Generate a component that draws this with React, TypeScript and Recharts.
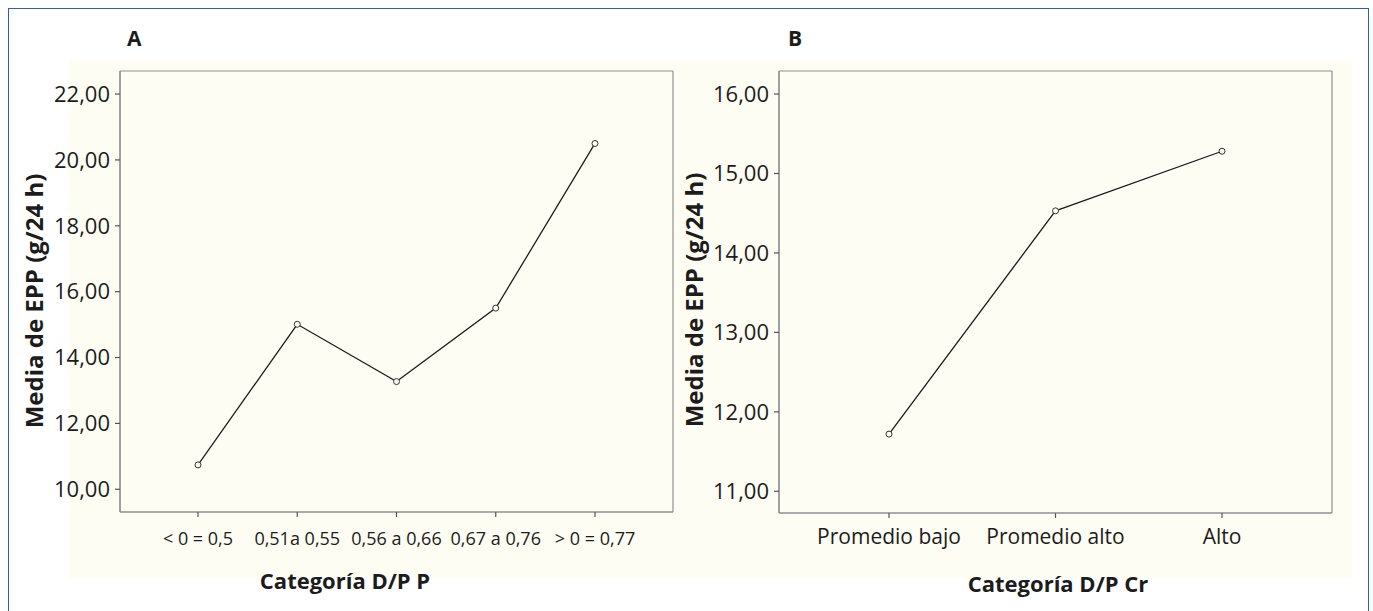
import React from "react";
import { LineChart, Line, XAxis, YAxis, CartesianGrid } from "recharts";

// ---- Data ----
const categoriesA = ["< 0 = 0,5", "0,51a 0,55", "0,56 a 0,66", "0,67 a 0,76", "> 0 = 0,77"];
const valuesA = [10.74, 15.01, 13.27, 15.5, 20.5];
const ticksA = [10, 12, 14, 16, 18, 20, 22];
const domainA: [number, number] = [9.31, 22.7];

const categoriesB = ["Promedio bajo", "Promedio alto", "Alto"];
const valuesB = [11.72, 14.53, 15.28];
const ticksB = [11, 12, 13, 14, 15, 16];
const domainB: [number, number] = [10.727, 16.29];

const panelLabels = ["A", "B"];
const yTitle = "Media de EPP (g/24 h)";
const xTitleA = "Categoría D/P P";
const xTitleB = "Categoría D/P Cr";

const dataA = categoriesA.map((c, i) => ({ cat: c, epp: valuesA[i] }));
const dataB = categoriesB.map((c, i) => ({ cat: c, epp: valuesB[i] }));

// ---- Styles ----
const FONT = '"Open Sans", "DejaVu Sans", sans-serif';
const CREAM = "#FDFDF3";
const AXIS = "#8f8f8f";
const INK = "#1c1c1c";

const fmt = (v: number) => v.toFixed(2).replace(".", ",");

const borderH = (p: any) => [p.offset.top, p.offset.top + p.offset.height];
const borderV = (p: any) => [p.offset.left, p.offset.left + p.offset.width];

type PanelProps = {
  data: { cat: string; epp: number }[];
  width: number;
  height: number;
  margin: { top: number; right: number; bottom: number; left: number };
  yWidth: number;
  domain: [number, number];
  ticks: number[];
  xPad: number;
  xFont: number;
  xTickMargin: number;
};

function Panel(p: PanelProps) {
  return (
    <LineChart width={p.width} height={p.height} data={p.data} margin={p.margin}>
      <CartesianGrid
        stroke={AXIS}
        strokeWidth={1.2}
        horizontalCoordinatesGenerator={borderH}
        verticalCoordinatesGenerator={borderV}
      />
      <XAxis
        dataKey="cat"
        type="category"
        padding={{ left: p.xPad, right: p.xPad }}
        height={60}
        axisLine={{ stroke: AXIS, strokeWidth: 1.2 }}
        tickLine={{ stroke: "#555", strokeWidth: 1.2 }}
        tickSize={5}
        tickMargin={p.xTickMargin}
        tick={{ fill: INK, fontSize: p.xFont, fontFamily: FONT }}
        interval={0}
      />
      <YAxis
        type="number"
        domain={p.domain}
        ticks={p.ticks}
        width={p.yWidth}
        allowDataOverflow
        tickFormatter={fmt}
        axisLine={{ stroke: AXIS, strokeWidth: 1.2 }}
        tickLine={{ stroke: "#555", strokeWidth: 1.2 }}
        tickSize={5}
        tickMargin={5}
        tick={{ fill: INK, fontSize: 22, fontFamily: FONT }}
      />
      <Line
        type="linear"
        dataKey="epp"
        stroke={INK}
        strokeWidth={1.3}
        dot={{ r: 3, stroke: "#333", strokeWidth: 1, fill: CREAM }}
        activeDot={false}
        isAnimationActive={false}
      />
    </LineChart>
  );
}

export default function App() {
  return (
    <div
      style={{
        position: "absolute",
        left: 0,
        top: 0,
        width: 1373,
        height: 611,
        overflow: "hidden",
        background: "#ffffff",
        fontFamily: FONT,
      }}
    >
      <div
        style={{
          position: "absolute",
          left: 8,
          top: 8,
          width: 1361,
          height: 640,
          border: "1.5px solid #2c5fae",
          boxSizing: "border-box",
        }}
      />
      <div
        style={{
          position: "absolute",
          left: 69,
          top: 60,
          width: 1283,
          height: 518,
          background: CREAM,
        }}
      />
      <div style={{ position: "absolute", left: 0, top: 0 }}>
        <Panel
          data={dataA}
          width={680}
          height={611}
          margin={{ top: 71, right: 7, bottom: 39, left: 20 }}
          yWidth={100}
          domain={domainA}
          ticks={ticksA}
          xPad={78}
          xFont={18}
          xTickMargin={15}
        />
      </div>
      <div style={{ position: "absolute", left: 680, top: 0 }}>
        <Panel
          data={dataB}
          width={693}
          height={611}
          margin={{ top: 71, right: 41, bottom: 38, left: 0 }}
          yWidth={99}
          domain={domainB}
          ticks={ticksB}
          xPad={110}
          xFont={21}
          xTickMargin={11}
        />
      </div>
      <svg
        width={1373}
        height={611}
        style={{ position: "absolute", left: 0, top: 0, pointerEvents: "none" }}
      >
        <g fontFamily={FONT} fontWeight={700} fill={INK}>
          <text x={127} y={46} fontSize={21}>{panelLabels[0]}</text>
          <text x={788} y={46} fontSize={21}>{panelLabels[1]}</text>
          <text x={345} y={589} fontSize={22} textAnchor="middle">{xTitleA}</text>
          <text x={1058} y={592} fontSize={22} textAnchor="middle">{xTitleB}</text>
          <text transform="translate(43,301) rotate(-90)" fontSize={24} textAnchor="middle">{yTitle}</text>
          <text transform="translate(703,300) rotate(-90)" fontSize={24} textAnchor="middle">{yTitle}</text>
        </g>
      </svg>
    </div>
  );
}
